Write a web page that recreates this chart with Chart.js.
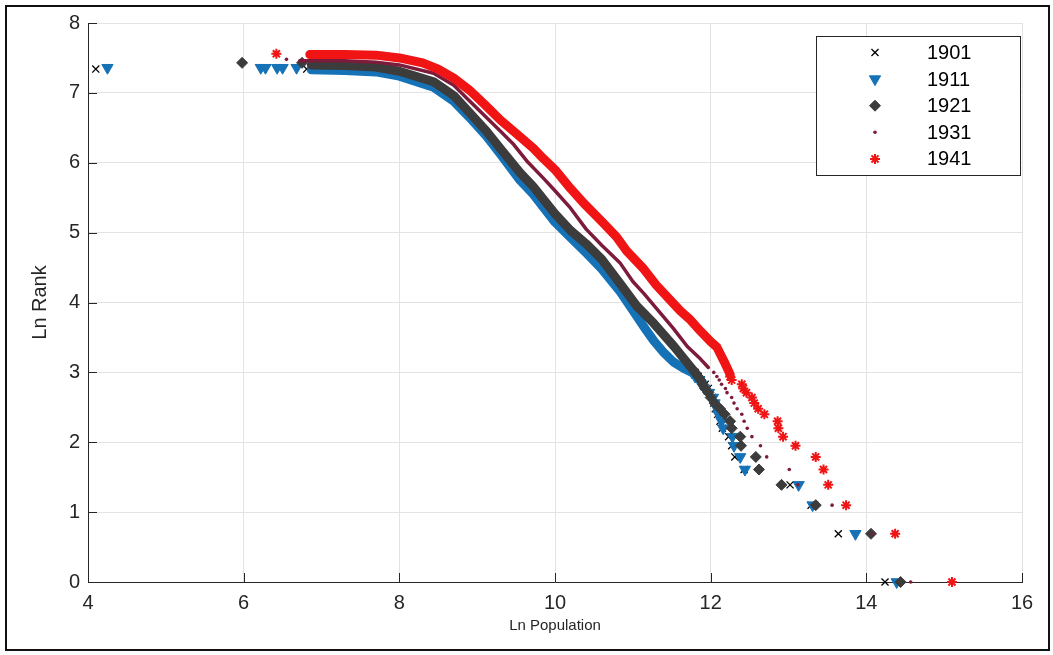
<!DOCTYPE html>
<html>
<head>
<meta charset="utf-8">
<script src="https://cdn.jsdelivr.net/npm/chart.js@4.4.1/dist/chart.umd.min.js"></script>
<style>
  html, body { margin: 0; padding: 0; background: #fff; }
  #wrap { position: relative; width: 1053px; height: 655px; }
  #frame { position: absolute; left: 5px; top: 5px; width: 1041px; height: 642px; border: 2px solid #111; pointer-events: none; }
</style>
</head>
<body>
<div id="wrap">
  <canvas id="rankSize" width="1053" height="655"></canvas>
  <div id="frame"></div>
</div>
<script>
/* ===== data (Ln Population, Ln Rank) ===== */
const years = ["1901", "1911", "1921", "1931", "1941"];
const xTicks = [4, 6, 8, 10, 12, 14, 16];
const yTicks = [0, 1, 2, 3, 4, 5, 6, 7, 8];

// dense part of each series (thousands of towns merge into a band)
const band1901 = [[6.9,7.33],[7.5,7.31],[8.0,7.24],[8.44,7.08],[8.7,6.88],[8.9,6.66],[9.12,6.40],[9.3,6.14],[9.55,5.80],[9.72,5.58],[10.0,5.18],[10.1,5.0],[10.41,4.72],[10.6,4.50],[10.84,4.15],[11.01,3.88],[11.15,3.65],[11.27,3.44],[11.45,3.25],[11.6,3.10],[11.8,3.0]];
const band1911 = [[6.87,7.33],[7.3,7.32],[7.7,7.30],[8.0,7.24],[8.44,7.08],[8.7,6.88],[8.9,6.65],[9.12,6.38],[9.3,6.12],[9.55,5.75],[9.72,5.55],[10.0,5.15],[10.2,4.93],[10.41,4.70],[10.6,4.48],[10.84,4.15],[11.01,3.87],[11.15,3.64],[11.27,3.45],[11.4,3.28],[11.52,3.15],[11.65,3.06],[11.76,3.0]];
const band1921 = [[6.87,7.40],[7.3,7.39],[7.7,7.37],[8.0,7.31],[8.44,7.16],[8.7,6.96],[8.9,6.72],[9.12,6.45],[9.3,6.20],[9.55,5.86],[9.72,5.66],[10.0,5.27],[10.2,5.03],[10.4,4.84],[10.6,4.62],[10.85,4.25],[11.05,3.95],[11.27,3.70],[11.53,3.37],[11.74,3.08],[11.8,3.0]];
const band1931 = [[6.72,7.46],[7.3,7.46],[7.7,7.44],[8.0,7.40],[8.44,7.28],[8.7,7.11],[8.87,6.92],[9.1,6.67],[9.3,6.45],[9.47,6.26],[9.65,6.01],[9.85,5.78],[10.0,5.60],[10.2,5.35],[10.4,5.05],[10.6,4.82],[10.84,4.56],[11.0,4.30],[11.14,4.13],[11.33,3.88],[11.52,3.63],[11.7,3.37],[11.87,3.19],[11.97,3.07]];
const band1941 = [[6.85,7.55],[7.3,7.55],[7.7,7.54],[8.0,7.50],[8.3,7.43],[8.5,7.34],[8.7,7.21],[8.9,7.04],[9.1,6.83],[9.3,6.61],[9.5,6.42],[9.72,6.21],[9.85,6.06],[10.0,5.9],[10.2,5.63],[10.37,5.42],[10.6,5.16],[10.79,4.94],[10.92,4.74],[11.14,4.48],[11.3,4.25],[11.46,4.06],[11.61,3.88],[11.74,3.75],[11.87,3.59],[12.0,3.44],[12.08,3.36],[12.18,3.14],[12.25,2.97]];

// separate markers: biggest cities (ranks 1..20) and the smallest towns
const tail1901 = [[14.24,0],[13.64,0.69],[13.29,1.10],[13.02,1.39],[12.43,1.61],[12.31,1.79],[12.27,1.95],[12.23,2.08],[12.15,2.20],[12.12,2.30],[12.09,2.40],[12.06,2.48],[12.04,2.56],[12.02,2.64],[11.99,2.71],[11.97,2.77],[11.93,2.83],[11.88,2.89],[11.84,2.94],[11.80,3.00],[4.10,7.34],[6.81,7.34]];
const tail1911 = [[14.39,0],[13.86,0.69],[13.31,1.10],[13.13,1.39],[12.44,1.61],[12.38,1.79],[12.30,1.95],[12.28,2.08],[12.16,2.20],[12.14,2.30],[12.10,2.40],[12.08,2.48],[12.05,2.56],[12.03,2.64],[11.98,2.71],[11.92,2.77],[11.88,2.83],[11.85,2.89],[11.80,2.94],[11.76,3.00],[4.25,7.36],[6.22,7.36],[6.28,7.36],[6.43,7.36],[6.50,7.36],[6.68,7.36]];
const tail1921 = [[14.44,0],[14.06,0.69],[13.35,1.10],[12.91,1.39],[12.62,1.61],[12.58,1.79],[12.39,1.95],[12.38,2.08],[12.27,2.20],[12.25,2.30],[12.18,2.40],[12.12,2.48],[12.05,2.56],[12.0,2.64],[11.97,2.71],[11.93,2.77],[11.90,2.83],[11.87,2.89],[11.84,2.94],[11.80,3.00],[5.98,7.43],[6.75,7.43]];
const tail1931 = [[14.57,0],[14.08,0.69],[13.56,1.10],[13.12,1.39],[13.01,1.61],[12.72,1.79],[12.64,1.95],[12.53,2.08],[12.47,2.20],[12.43,2.30],[12.40,2.40],[12.34,2.48],[12.30,2.56],[12.27,2.64],[12.21,2.71],[12.19,2.77],[12.14,2.83],[12.11,2.89],[12.08,2.94],[12.04,3.00],[6.55,7.48]];
const tail1941 = [[15.10,0],[14.37,0.69],[13.74,1.10],[13.51,1.39],[13.45,1.61],[13.35,1.79],[13.09,1.95],[12.93,2.08],[12.87,2.20],[12.86,2.30],[12.69,2.40],[12.61,2.48],[12.56,2.56],[12.53,2.64],[12.46,2.71],[12.42,2.77],[12.40,2.83],[12.27,2.89],[12.25,2.94],[6.42,7.56]];

/* ===== styles ===== */
const markerStyles = [
  { pointStyle: "crossRot", radius: 5, rotation: 0, borderWidth: 1.3, fill: "#000", stroke: "#000" },
  { pointStyle: "triangle", radius: 6.5, rotation: 180, borderWidth: 1, fill: "#1672b6", stroke: "#1672b6" },
  { pointStyle: "rectRot", radius: 5.5, rotation: 0, borderWidth: 1, fill: "#3c3c3c", stroke: "#3c3c3c" },
  { pointStyle: "circle", radius: 1.8, rotation: 0, borderWidth: 0, fill: "#7d1b3a", stroke: "#7d1b3a" },
  { pointStyle: "star", radius: 5, rotation: 0, borderWidth: 2, fill: "#f01414", stroke: "#f01414" },
];
const bandColors = ["#111111", "#1672b6", "#3c3c3c", "#7d1b3a", "#f01414"];
const bandWidths = [3, 9, 9, 3.5, 9];
const bands = [band1901, band1911, band1921, band1931, band1941];
const tails = [tail1901, tail1911, tail1921, tail1931, tail1941];

const toXY = arr => arr.map(p => ({ x: p[0], y: p[1] }));
const axisColor = "#262626";
const gridColor = "#e3e3e3";
const fontFamily = '"Liberation Sans", Arial, Helvetica, sans-serif';

const datasets = [];
years.forEach(function (yr, i) {
  const st = markerStyles[i];
  const order = (years.length - i) * 2;  // 1901 at the bottom, 1941 on top
  datasets.push({
    label: yr + " band",
    data: toXY(bands[i]),
    showLine: true,
    borderColor: bandColors[i],
    borderWidth: bandWidths[i],
    borderCapStyle: "round",
    borderJoinStyle: "round",
    pointRadius: 0,
    tension: 0,
    order: order + 1,
  });
  datasets.push({
    label: yr,
    data: toXY(tails[i]),
    showLine: false,
    pointStyle: st.pointStyle,
    pointRadius: st.radius,
    pointRotation: st.rotation,
    pointBorderWidth: st.borderWidth,
    backgroundColor: st.fill,
    borderColor: st.stroke,
    clip: false,
    order: order,
  });
});

/* inward MATLAB-like tick marks */
const innerTicks = {
  id: "innerTicks",
  afterDatasetsDraw(chart) {
    const ctx = chart.ctx;
    const a = chart.chartArea;
    const xs = chart.scales.x, ys = chart.scales.y;
    ctx.save();
    ctx.strokeStyle = axisColor;
    ctx.lineWidth = 1;
    ctx.beginPath();
    xTicks.forEach(function (v) {
      const px = Math.round(xs.getPixelForValue(v)) + 0.5;
      ctx.moveTo(px, a.bottom);
      ctx.lineTo(px, a.bottom - 9);
    });
    yTicks.forEach(function (v) {
      const py = Math.round(ys.getPixelForValue(v)) + 0.5;
      ctx.moveTo(a.left, py);
      ctx.lineTo(a.left + 9, py);
    });
    ctx.stroke();
    ctx.restore();
  },
};

/* boxed legend in the upper right corner */
const legendBox = {
  id: "legendBox",
  afterDraw(chart) {
    const ctx = chart.ctx;
    const a = chart.chartArea;
    const w = 204, h = 139;
    const x0 = a.right - w - 2, y0 = a.top + 13;
    ctx.save();
    ctx.fillStyle = "#fff";
    ctx.fillRect(x0, y0, w, h);
    ctx.strokeStyle = axisColor;
    ctx.lineWidth = 1;
    ctx.strokeRect(x0 + 0.5, y0 + 0.5, w, h);
    ctx.font = "20px " + fontFamily;
    ctx.textBaseline = "middle";
    years.forEach(function (yr, i) {
      const st = markerStyles[i];
      const cy = y0 + 16.5 + i * 26.6;
      ctx.fillStyle = st.fill;
      ctx.strokeStyle = st.stroke;
      ctx.lineWidth = st.borderWidth;
      Chart.helpers.drawPoint(ctx, {
        pointStyle: st.pointStyle,
        rotation: st.rotation,
        radius: st.radius,
        borderWidth: st.borderWidth,
      }, x0 + 59, cy);
      ctx.fillStyle = "#000";
      ctx.textAlign = "left";
      ctx.fillText(yr, x0 + 111, cy + 1);
    });
    ctx.restore();
  },
};

const ctx = document.getElementById("rankSize");
new Chart(ctx, {
  type: "scatter",
  data: { datasets: datasets },
  options: {
    responsive: false,
    animation: false,
    events: [],
    layout: { padding: { left: 0, top: 23, right: 31, bottom: 0 } },
    plugins: {
      legend: { display: false },
      tooltip: { enabled: false },
    },
    scales: {
      x: {
        type: "linear",
        position: "bottom",
        min: 4,
        max: 16,
        afterBuildTicks: s => { s.ticks = xTicks.map(v => ({ value: v })); },
        afterFit: s => { s.height = 73; },
        grid: { color: gridColor, drawTicks: false },
        border: { color: axisColor, width: 1 },
        ticks: {
          color: axisColor,
          font: { family: fontFamily, size: 20 },
          padding: 9,
          maxRotation: 0,
          autoSkip: false,
        },
        title: {
          display: true,
          text: "Ln Population",
          color: axisColor,
          font: { family: fontFamily, size: 15 },
          padding: { top: 0, bottom: 20 },
        },
      },
      y: {
        type: "linear",
        min: 0,
        max: 8,
        afterBuildTicks: s => { s.ticks = yTicks.map(v => ({ value: v })); },
        afterFit: s => { s.width = 88; },
        grid: { color: gridColor, drawTicks: false },
        border: { color: axisColor, width: 1 },
        ticks: {
          color: axisColor,
          font: { family: fontFamily, size: 20 },
          padding: 8,
        },
        title: {
          display: true,
          text: "Ln Rank",
          color: axisColor,
          font: { family: fontFamily, size: 20 },
          padding: { top: 28, bottom: 0 },
        },
      },
    },
  },
  plugins: [innerTicks, legendBox],
});
</script>
</body>
</html>
